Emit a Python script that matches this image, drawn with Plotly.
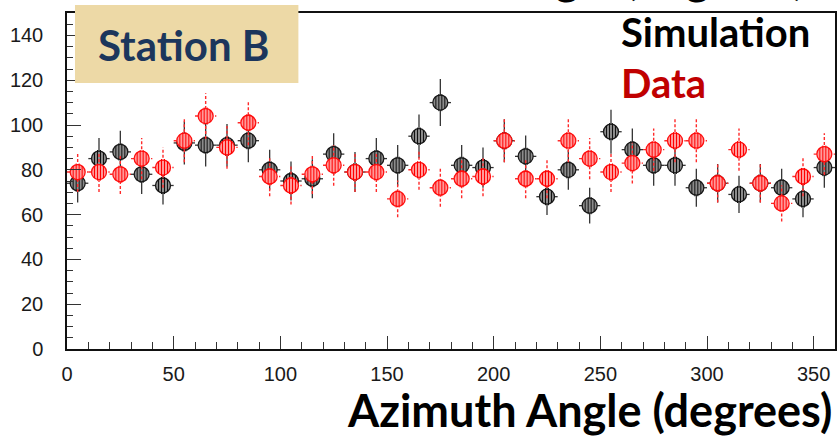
import plotly.graph_objects as go

# Azimuth bins (10-degree bins, centres)
angles = [5, 15, 25, 35, 45, 55, 65, 75, 85, 95, 105, 115, 125, 135, 145, 155, 165, 175,
          185, 195, 205, 215, 225, 235, 245, 255, 265, 275, 285, 295, 305, 315, 325, 335, 345, 355]
bin_half_width = 5

sim_counts = [74, 85, 88, 78, 73, 92, 91, 91, 93, 80, 75, 76, 87, 79, 85, 82, 95, 110,
              82, 81, 93, 86, 68, 80, 64, 97, 89, 82, 82, 72, 74, 69, 74, 72, 67, 81]
sim_errors = [8.6, 9.2, 9.4, 8.8, 8.5, 9.6, 9.5, 9.5, 9.6, 8.9, 8.7, 8.7, 9.3, 8.9, 9.2, 9.1, 9.7, 10.5,
              9.1, 9.0, 9.6, 9.3, 8.2, 8.9, 8.0, 9.8, 9.4, 9.1, 9.1, 8.5, 8.6, 8.3, 8.6, 8.5, 8.2, 9.0]

data_counts = [79, 79, 78, 85, 81, 93, 104, 90, 101, 77, 73, 78, 82, 79, 79, 67, 80, 72,
               76, 77, 93, 76, 76, 93, 85, 79, 83, 89, 93, 93, 74, 89, 74, 65, 77, 87]
data_errors = [8.9, 8.9, 8.8, 9.2, 9.0, 9.6, 10.2, 9.5, 10.0, 8.8, 8.5, 8.8, 9.1, 8.9, 8.9, 8.2, 8.9, 8.5,
               8.7, 8.8, 9.6, 8.7, 8.7, 9.6, 9.2, 8.9, 9.1, 9.4, 9.6, 9.6, 8.6, 9.4, 8.6, 8.1, 8.8, 9.3]

x_ticks = [0, 50, 100, 150, 200, 250, 300, 350]
y_ticks = [0, 20, 40, 60, 80, 100, 120, 140]

W, H = 838, 436
ML, MR, MT, MB = 67, 1, 13, 87
X_RANGE = [0, 360]
Y_RANGE = [0, 150]
plot_w = W - ML - MR
plot_h = H - MT - MB
px_per_x = plot_w / (X_RANGE[1] - X_RANGE[0])


def paper_x(px):
    return (px - ML) / plot_w


def paper_y(py):
    return (H - MB - py) / plot_h


MARKER_SIZE = 15
stripe_offsets = [-4.5, -1.5, 1.5, 4.5]  # pixel offsets of the hatch lines inside a marker


def hatched_markers(xs, ys, fill, edge, stripe):
    traces = [go.Scatter(
        x=xs, y=ys, mode="markers", showlegend=False, hoverinfo="skip",
        marker=dict(symbol="circle", size=MARKER_SIZE, color=fill,
                    line=dict(color=edge, width=1.3)),
    )]
    r = MARKER_SIZE / 2 - 1.2
    for d in stripe_offsets:
        length = 2 * (max(r * r - d * d, 0)) ** 0.5
        traces.append(go.Scatter(
            x=[x + d / px_per_x for x in xs], y=ys, mode="markers",
            showlegend=False, hoverinfo="skip",
            marker=dict(symbol="line-ns", size=length, color=stripe,
                        line=dict(color=stripe, width=1)),
        ))
    return traces


fig = go.Figure()

# Simulation: solid error bars, grey hatched circles
fig.add_trace(go.Scatter(
    x=angles, y=sim_counts, mode="markers", showlegend=False, hoverinfo="skip",
    marker=dict(size=1, color="rgba(0,0,0,0)"),
    error_y=dict(type="data", array=sim_errors, color="#333333", thickness=1.3, width=0),
    error_x=dict(type="constant", value=bin_half_width, color="#333333", thickness=1.3, width=0),
))
for t in hatched_markers(angles, sim_counts, "#8c8c8c", "#1a1a1a", "#111111"):
    fig.add_trace(t)

# Data: dashed red error bars, pink hatched circles
ex, ey = [], []
for a, v, e in zip(angles, data_counts, data_errors):
    ex += [a, a, None, a - bin_half_width, a + bin_half_width, None]
    ey += [v - e, v + e, None, v, v, None]
fig.add_trace(go.Scatter(
    x=ex, y=ey, mode="lines", showlegend=False, hoverinfo="skip",
    line=dict(color="#ff2a2a", width=1.4, dash="3px,2px"),
))
for t in hatched_markers(angles, data_counts, "#ff9a9a", "#ff1010", "#ff0000"):
    fig.add_trace(t)

tick_font = dict(family="Liberation Sans, Arial, sans-serif", size=20, color="#1a1a1a")

fig.update_layout(
    width=W, height=H,
    margin=dict(l=ML, r=MR, t=MT, b=MB, pad=0),
    paper_bgcolor="white", plot_bgcolor="white",
    showlegend=False,
    xaxis=dict(
        range=X_RANGE, tickvals=x_ticks, ticks="inside", ticklen=13, tickwidth=1.2,
        tickcolor="#333", showgrid=False, zeroline=False,
        showline=True, linecolor="#111", linewidth=1.5, mirror=True,
        tickfont=tick_font, ticklabelstandoff=6,
        minor=dict(dtick=10, tick0=0, ticks="inside", ticklen=7, tickwidth=1.2,
                   tickcolor="#333", showgrid=False),
    ),
    yaxis=dict(
        range=Y_RANGE, tickvals=y_ticks, ticks="inside", ticklen=14, tickwidth=1.2,
        tickcolor="#333", showgrid=False, zeroline=False,
        showline=True, linecolor="#111", linewidth=1.5, mirror=True,
        tickfont=tick_font, ticklabelstandoff=18,
        minor=dict(dtick=5, tick0=0, ticks="inside", ticklen=6, tickwidth=1.2,
                   tickcolor="#333", showgrid=False),
    ),
)

# Station label panel
fig.add_shape(
    type="rect", xref="paper", yref="paper", layer="above",
    x0=paper_x(75), x1=paper_x(299), y0=paper_y(83), y1=paper_y(5),
    fillcolor="#edd9a6", line=dict(width=0),
)

bold_font = "Lato, 'Open Sans', sans-serif"
annotations = [
    dict(text="<b>Station B</b>", x=paper_x(184), y=paper_y(45), xanchor="center", yanchor="middle",
         font=dict(family=bold_font, size=42, color="#1c365c")),
    dict(text="<b>Simulation</b>", x=paper_x(620), y=paper_y(32), xanchor="left", yanchor="middle",
         font=dict(family=bold_font, size=40, color="#000000")),
    dict(text="<b>Data</b>", x=paper_x(620), y=paper_y(83), xanchor="left", yanchor="middle",
         font=dict(family=bold_font, size=40, color="#c00000")),
    dict(text="<b>Azimuth Angle (degrees)</b>", x=paper_x(836), y=paper_y(410), xanchor="right",
         yanchor="middle", font=dict(family=bold_font, size=45, color="#000000")),
    dict(text="<b>Zenith Angle (degrees)</b>", x=paper_x(809), y=paper_y(-23), xanchor="right",
         yanchor="middle", font=dict(family=bold_font, size=45, color="#000000")),
]
for a in annotations:
    fig.add_annotation(xref="paper", yref="paper", showarrow=False, **a)

fig.write_html("out.html")
